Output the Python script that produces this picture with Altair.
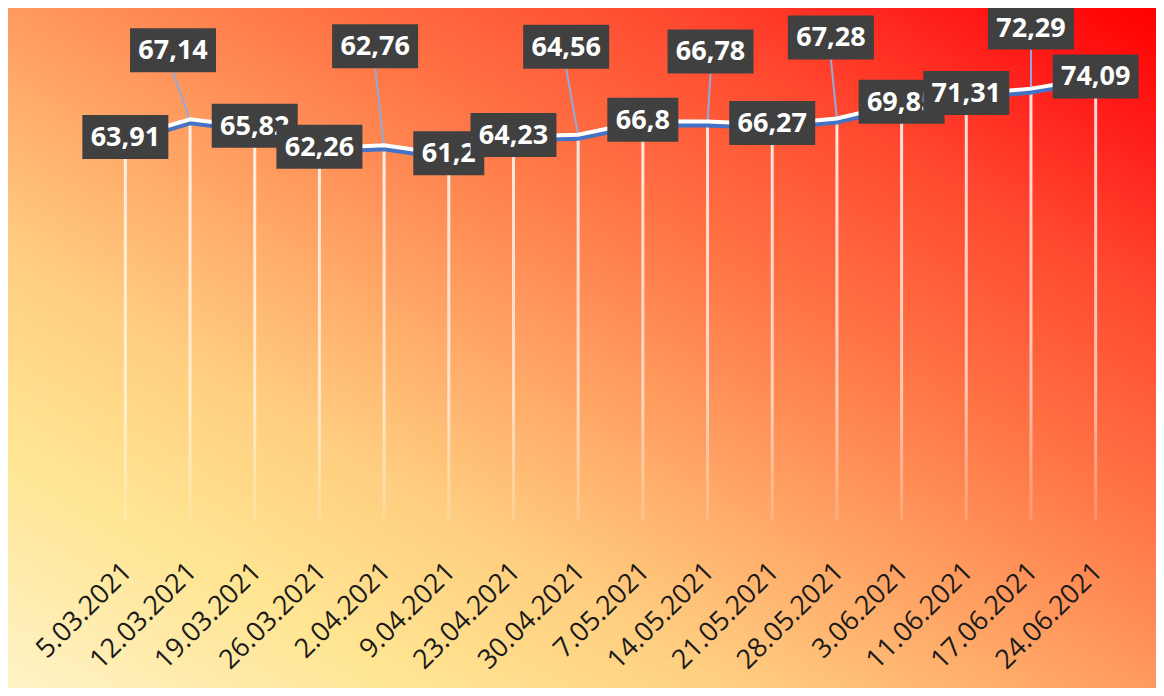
import altair as alt
import pandas as pd

# ---- data -------------------------------------------------------------
dates = ["5.03.2021", "12.03.2021", "19.03.2021", "26.03.2021", "2.04.2021",
         "9.04.2021", "23.04.2021", "30.04.2021", "7.05.2021", "14.05.2021",
         "21.05.2021", "28.05.2021", "3.06.2021", "11.06.2021", "17.06.2021",
         "24.06.2021"]
values = [63.91, 67.14, 65.82, 62.26, 62.76, 61.2, 64.23, 64.56, 66.8, 66.78,
          66.27, 67.28, 69.85, 71.31, 72.29, 74.09]

# ---- label placement (style, in pixels) --------------------------------
label_lift_px = [2.5, 70, 2.5, 2.5, 100, 2.5, 2.5, 89, 2.5, 71, 2.5, 82, 2.5, 2.5, 62, 2.5]
label_shift_px = [0, -17, 0, 0, -9, 0, 0, -12, 0, 3, 0, -6, 0, 0, 0, 0]

# ---- layout -----------------------------------------------------------
W, H = 1035, 512
PAD_L, PAD_T, PAD_R, PAD_B = 85, 0, 28, 168
YMAX = 86
N = len(dates)
PX_X = W / N
PX_Y = H / YMAX
BOX_H = 44

labels = [str(v).replace(".", ",") for v in values]
rows = []
for i, (d, v, lab, lift, sh) in enumerate(zip(dates, values, labels, label_lift_px, label_shift_px)):
    bw = 86 if len(lab) >= 5 else 71
    lx = i + sh / PX_X
    ly = v + lift / PX_Y
    rows.append(dict(i=i, date=d, value=v, label=lab, lx=lx, ly=ly,
                     bx1=lx - bw / 2 / PX_X, bx2=lx + bw / 2 / PX_X,
                     by1=ly - BOX_H / 2 / PX_Y, by2=ly + BOX_H / 2 / PX_Y,
                     moved=lift > 10))
df = pd.DataFrame(rows)

xscale = alt.Scale(domain=[-0.5, N - 0.5], nice=False, zero=False, padding=0)
yscale = alt.Scale(domain=[0, YMAX], nice=False, padding=0)

label_expr = "[" + ",".join(f"'{d}'" for d in dates) + "][datum.value]"
xaxis = alt.Axis(values=list(range(N)), labelExpr=label_expr, labelAngle=-45,
                 labelAlign="right", labelBaseline="middle", labelFontSize=27,
                 labelFont="Open Sans", labelColor="#1a1a1a", labelPadding=47,
                 labelOffset=2,
                 domain=False, ticks=False, grid=False, title=None,
                 labelOverlap=False, labelFlush=False, labelBound=False, zindex=1)

bg_grad = alt.Gradient(
    gradient="linear", x1=0, y1=1, x2=1, y2=0,
    stops=[
        alt.GradientStop(offset=0.0, color="#FFF2C6"),
        alt.GradientStop(offset=0.18, color="#FFE592"),
        alt.GradientStop(offset=0.32, color="#FFCE80"),
        alt.GradientStop(offset=0.5, color="#FF9A5E"),
        alt.GradientStop(offset=0.62, color="#FF7646"),
        alt.GradientStop(offset=0.78, color="#FF4A30"),
        alt.GradientStop(offset=0.9, color="#FF1E1A"),
        alt.GradientStop(offset=1.0, color="#FF0000"),
    ])

background = alt.Chart(pd.DataFrame({"a": [0]})).mark_rect(
    fill=bg_grad, strokeWidth=0).encode(
    x=alt.value(-PAD_L), x2=alt.value(W + PAD_R),
    y=alt.value(-PAD_T), y2=alt.value(H + PAD_B))

drop_grad = alt.Gradient(
    gradient="linear", x1=0, y1=0, x2=0, y2=1,
    stops=[alt.GradientStop(offset=0, color="rgba(255,255,255,0.85)"),
           alt.GradientStop(offset=0.7, color="rgba(255,255,255,0.6)"),
           alt.GradientStop(offset=1, color="rgba(255,255,255,0.15)")])

base = alt.Chart(df)

drops = base.mark_bar(size=3, fill=drop_grad).encode(
    x=alt.X("i:Q", scale=xscale, axis=xaxis),
    y=alt.Y("value:Q", scale=yscale, axis=None),
    y2=alt.datum(0))

leaders = base.transform_filter("datum.moved").mark_rule(
    color="#8FAADC", strokeWidth=2).encode(
    x=alt.X("i:Q", scale=xscale), y=alt.Y("value:Q", scale=yscale),
    x2="lx:Q", y2="by1:Q")

line_blue = base.mark_line(color="#4472C4", strokeWidth=6, yOffset=2).encode(
    x=alt.X("i:Q", scale=xscale), y=alt.Y("value:Q", scale=yscale))
line_white = base.mark_line(color="#FFFFFF", strokeWidth=4, yOffset=-1).encode(
    x=alt.X("i:Q", scale=xscale), y=alt.Y("value:Q", scale=yscale))

layers = [background, drops, leaders, line_blue, line_white]
for k in range(N):
    sub = base.transform_filter(f"datum.i == {k}")
    layers.append(sub.mark_rect(color="#404040").encode(
        x=alt.X("bx1:Q", scale=xscale), x2="bx2:Q",
        y=alt.Y("by1:Q", scale=yscale), y2="by2:Q"))
    layers.append(sub.mark_text(font="Open Sans", fontWeight="bold", fontSize=27,
                                color="white", baseline="middle", align="center", dy=1).encode(
        x=alt.X("lx:Q", scale=xscale), y=alt.Y("ly:Q", scale=yscale),
        text="label:N"))

chart = alt.layer(*layers).properties(
    width=W, height=H,
    autosize=alt.AutoSizeParams(type="none"),
    padding={"left": PAD_L, "top": PAD_T, "right": PAD_R, "bottom": PAD_B},
    background="white",
).configure_view(stroke=None)

chart.save("out.html", embed_options={"renderer": "svg", "actions": False})
